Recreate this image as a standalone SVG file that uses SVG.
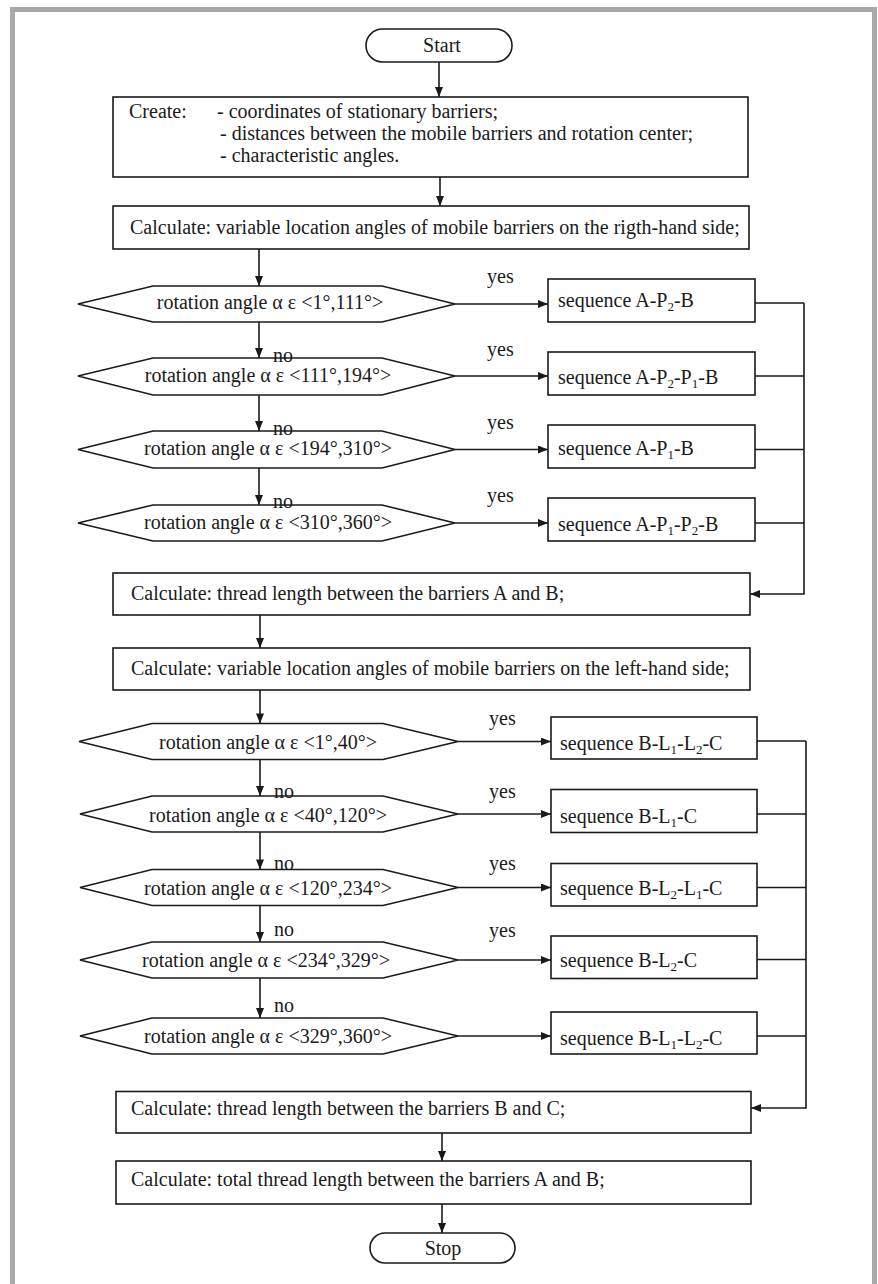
<svg xmlns="http://www.w3.org/2000/svg" width="878" height="1284" viewBox="0 0 878 1284">
<style>
text{font-family:"Liberation Serif","Times New Roman",serif;font-size:20px;fill:#1a1a1a}
.sh{fill:#fff;stroke:#1a1a1a;stroke-width:1.6}
.c{fill:none;stroke:#1a1a1a;stroke-width:1.6}
.m{text-anchor:middle}
.sub{font-size:13px}
</style>
<defs>
<marker id="ah" viewBox="0 0 10 8" refX="10" refY="4" markerWidth="11" markerHeight="8" markerUnits="userSpaceOnUse" orient="auto"><path d="M0,0 L10,4 L0,8 z" fill="#1a1a1a"/></marker>
</defs>
<rect width="878" height="1284" fill="#fff"/>
<path d="M12.5,1284 V9.5 H874.5 V1284" fill="none" stroke="#a9a9a9" stroke-width="5"/>

<g id="connectors">
<path class="c" d="M439,62 V97" marker-end="url(#ah)"/>
<path class="c" d="M440,177 V206" marker-end="url(#ah)"/>
<path class="c" d="M259,249 V286" marker-end="url(#ah)"/>
<path class="c" d="M259,322 V358" marker-end="url(#ah)"/>
<path class="c" d="M259,395 V431" marker-end="url(#ah)"/>
<path class="c" d="M259,468 V505" marker-end="url(#ah)"/>
<path class="c" d="M455,304 H548" marker-end="url(#ah)"/>
<path class="c" d="M455,376 H548" marker-end="url(#ah)"/>
<path class="c" d="M455,449.5 H548" marker-end="url(#ah)"/>
<path class="c" d="M455,523 H548" marker-end="url(#ah)"/>
<path class="c" d="M755,303 H804 M755,376 H804 M755,449.5 H804 M755,523 H804"/>
<path class="c" d="M804,303 V594 H750" marker-end="url(#ah)"/>
<path class="c" d="M260,615 V648" marker-end="url(#ah)"/>
<path class="c" d="M260,690 V723.5" marker-end="url(#ah)"/>
<path class="c" d="M260,759.5 V796" marker-end="url(#ah)"/>
<path class="c" d="M260,832 V869.5" marker-end="url(#ah)"/>
<path class="c" d="M260,905.5 V942" marker-end="url(#ah)"/>
<path class="c" d="M260,978 V1018" marker-end="url(#ah)"/>
<path class="c" d="M458,741.5 H551" marker-end="url(#ah)"/>
<path class="c" d="M458,814 H551" marker-end="url(#ah)"/>
<path class="c" d="M458,887.5 H551" marker-end="url(#ah)"/>
<path class="c" d="M458,960 H551" marker-end="url(#ah)"/>
<path class="c" d="M458,1036 H551" marker-end="url(#ah)"/>
<path class="c" d="M757,741 H806 M757,814 H806 M757,887.5 H806 M757,959.5 H806 M757,1036 H806"/>
<path class="c" d="M806,741 V1108 H751" marker-end="url(#ah)"/>
<path class="c" d="M442,1133 V1161" marker-end="url(#ah)"/>
<path class="c" d="M442,1204 V1233" marker-end="url(#ah)"/>
</g>

<g id="start">
<rect class="sh" x="366" y="29" width="146" height="33" rx="16.5"/>
<text class="m" x="442" y="52">Start</text>
</g>

<g id="create">
<rect class="sh" x="113" y="97" width="635" height="80"/>
<text x="129" y="118">Create:</text>
<text x="217" y="118">- coordinates of stationary barriers;</text>
<text x="220" y="140">- distances between the mobile barriers and rotation center;</text>
<text x="220" y="162">- characteristic angles.</text>
</g>

<g id="calc-right">
<rect class="sh" x="113" y="206" width="636" height="43"/>
<text x="130" y="234">Calculate: variable location angles of mobile barriers on the rigth-hand side;</text>
</g>

<g id="d1">
<polygon class="sh" points="78,304 153,286 382,286 455,304 382,322 153,322"/>
<text class="m" x="270" y="309">rotation angle α ε &lt;1°,111°&gt;</text>
</g>
<g id="d2">
<polygon class="sh" points="78,376 153,358 382,358 455,376 382,395 153,395"/>
<text class="m" x="268" y="382">rotation angle α ε &lt;111°,194°&gt;</text>
</g>
<g id="d3">
<polygon class="sh" points="78,449.5 153,431 382,431 455,449.5 382,468 153,468"/>
<text class="m" x="268" y="455">rotation angle α ε &lt;194°,310°&gt;</text>
</g>
<g id="d4">
<polygon class="sh" points="78,523 153,505 382,505 455,523 382,541 153,541"/>
<text class="m" x="268" y="529">rotation angle α ε &lt;310°,360°&gt;</text>
</g>

<g id="s1">
<rect class="sh" x="548" y="279" width="207" height="43"/>
<text x="558" y="307">sequence A-P<tspan class="sub" dy="4">2</tspan><tspan dy="-4">-B</tspan></text>
</g>
<g id="s2">
<rect class="sh" x="548" y="352" width="207" height="43"/>
<text x="558" y="384">sequence A-P<tspan class="sub" dy="4">2</tspan><tspan dy="-4">-P</tspan><tspan class="sub" dy="4">1</tspan><tspan dy="-4">-B</tspan></text>
</g>
<g id="s3">
<rect class="sh" x="548" y="425" width="207" height="43"/>
<text x="558" y="455">sequence A-P<tspan class="sub" dy="4">1</tspan><tspan dy="-4">-B</tspan></text>
</g>
<g id="s4">
<rect class="sh" x="548" y="498" width="207" height="43"/>
<text x="558" y="531">sequence A-P<tspan class="sub" dy="4">1</tspan><tspan dy="-4">-P</tspan><tspan class="sub" dy="4">2</tspan><tspan dy="-4">-B</tspan></text>
</g>

<g id="calc-ab">
<rect class="sh" x="113" y="573" width="637" height="42"/>
<text x="131" y="600">Calculate: thread length between the barriers A and B;</text>
</g>

<g id="calc-left">
<rect class="sh" x="113" y="648" width="637" height="42"/>
<text x="131" y="675">Calculate: variable location angles of mobile barriers on the left-hand side;</text>
</g>

<g id="e1">
<polygon class="sh" points="79,741.5 152,723.5 383,723.5 458,741.5 383,759.5 152,759.5"/>
<text class="m" x="268" y="749">rotation angle α ε &lt;1°,40°&gt;</text>
</g>
<g id="e2">
<polygon class="sh" points="80,814 152,796 383,796 458,814 383,832 152,832"/>
<text class="m" x="268" y="821.5">rotation angle α ε &lt;40°,120°&gt;</text>
</g>
<g id="e3">
<polygon class="sh" points="80,887.5 152,869.5 383,869.5 458,887.5 383,905.5 152,905.5"/>
<text class="m" x="268" y="894.5">rotation angle α ε &lt;120°,234°&gt;</text>
</g>
<g id="e4">
<polygon class="sh" points="80,960 152,942 383,942 458,960 383,978 152,978"/>
<text class="m" x="266" y="967">rotation angle α ε &lt;234°,329°&gt;</text>
</g>
<g id="e5">
<polygon class="sh" points="80,1036 152,1018 383,1018 458,1036 383,1054 152,1054"/>
<text class="m" x="268" y="1043">rotation angle α ε &lt;329°,360°&gt;</text>
</g>

<g id="t1">
<rect class="sh" x="551" y="717" width="206" height="42"/>
<text x="560" y="750">sequence B-L<tspan class="sub" dy="4">1</tspan><tspan dy="-4">-L</tspan><tspan class="sub" dy="4">2</tspan><tspan dy="-4">-C</tspan></text>
</g>
<g id="t2">
<rect class="sh" x="551" y="789.5" width="206" height="43"/>
<text x="560" y="823">sequence B-L<tspan class="sub" dy="4">1</tspan><tspan dy="-4">-C</tspan></text>
</g>
<g id="t3">
<rect class="sh" x="551" y="863.5" width="206" height="42.5"/>
<text x="560" y="895">sequence B-L<tspan class="sub" dy="4">2</tspan><tspan dy="-4">-L</tspan><tspan class="sub" dy="4">1</tspan><tspan dy="-4">-C</tspan></text>
</g>
<g id="t4">
<rect class="sh" x="551" y="936" width="206" height="42.5"/>
<text x="560" y="967">sequence B-L<tspan class="sub" dy="4">2</tspan><tspan dy="-4">-C</tspan></text>
</g>
<g id="t5">
<rect class="sh" x="551" y="1012" width="206" height="42"/>
<text x="560" y="1045">sequence B-L<tspan class="sub" dy="4">1</tspan><tspan dy="-4">-L</tspan><tspan class="sub" dy="4">2</tspan><tspan dy="-4">-C</tspan></text>
</g>

<g id="calc-bc">
<rect class="sh" x="116" y="1091.5" width="635" height="41.5"/>
<text x="131" y="1115">Calculate: thread length between the barriers B and C;</text>
</g>

<g id="calc-total">
<rect class="sh" x="116" y="1161" width="635" height="43"/>
<text x="131" y="1186">Calculate: total thread length between the barriers A and B;</text>
</g>

<g id="stop">
<rect class="sh" x="370" y="1233" width="145" height="30" rx="15"/>
<text class="m" x="443" y="1255">Stop</text>
</g>

<g id="labels">
<text x="487" y="283">yes</text>
<text x="487" y="356">yes</text>
<text x="487" y="429">yes</text>
<text x="487" y="502">yes</text>
<text x="273" y="362">no</text>
<text x="273" y="435">no</text>
<text x="273" y="508">no</text>
<text x="489" y="725">yes</text>
<text x="489" y="798">yes</text>
<text x="489" y="870">yes</text>
<text x="489" y="937">yes</text>
<text x="274" y="798">no</text>
<text x="274" y="870">no</text>
<text x="274" y="936">no</text>
<text x="274" y="1012">no</text>
</g>
</svg>
